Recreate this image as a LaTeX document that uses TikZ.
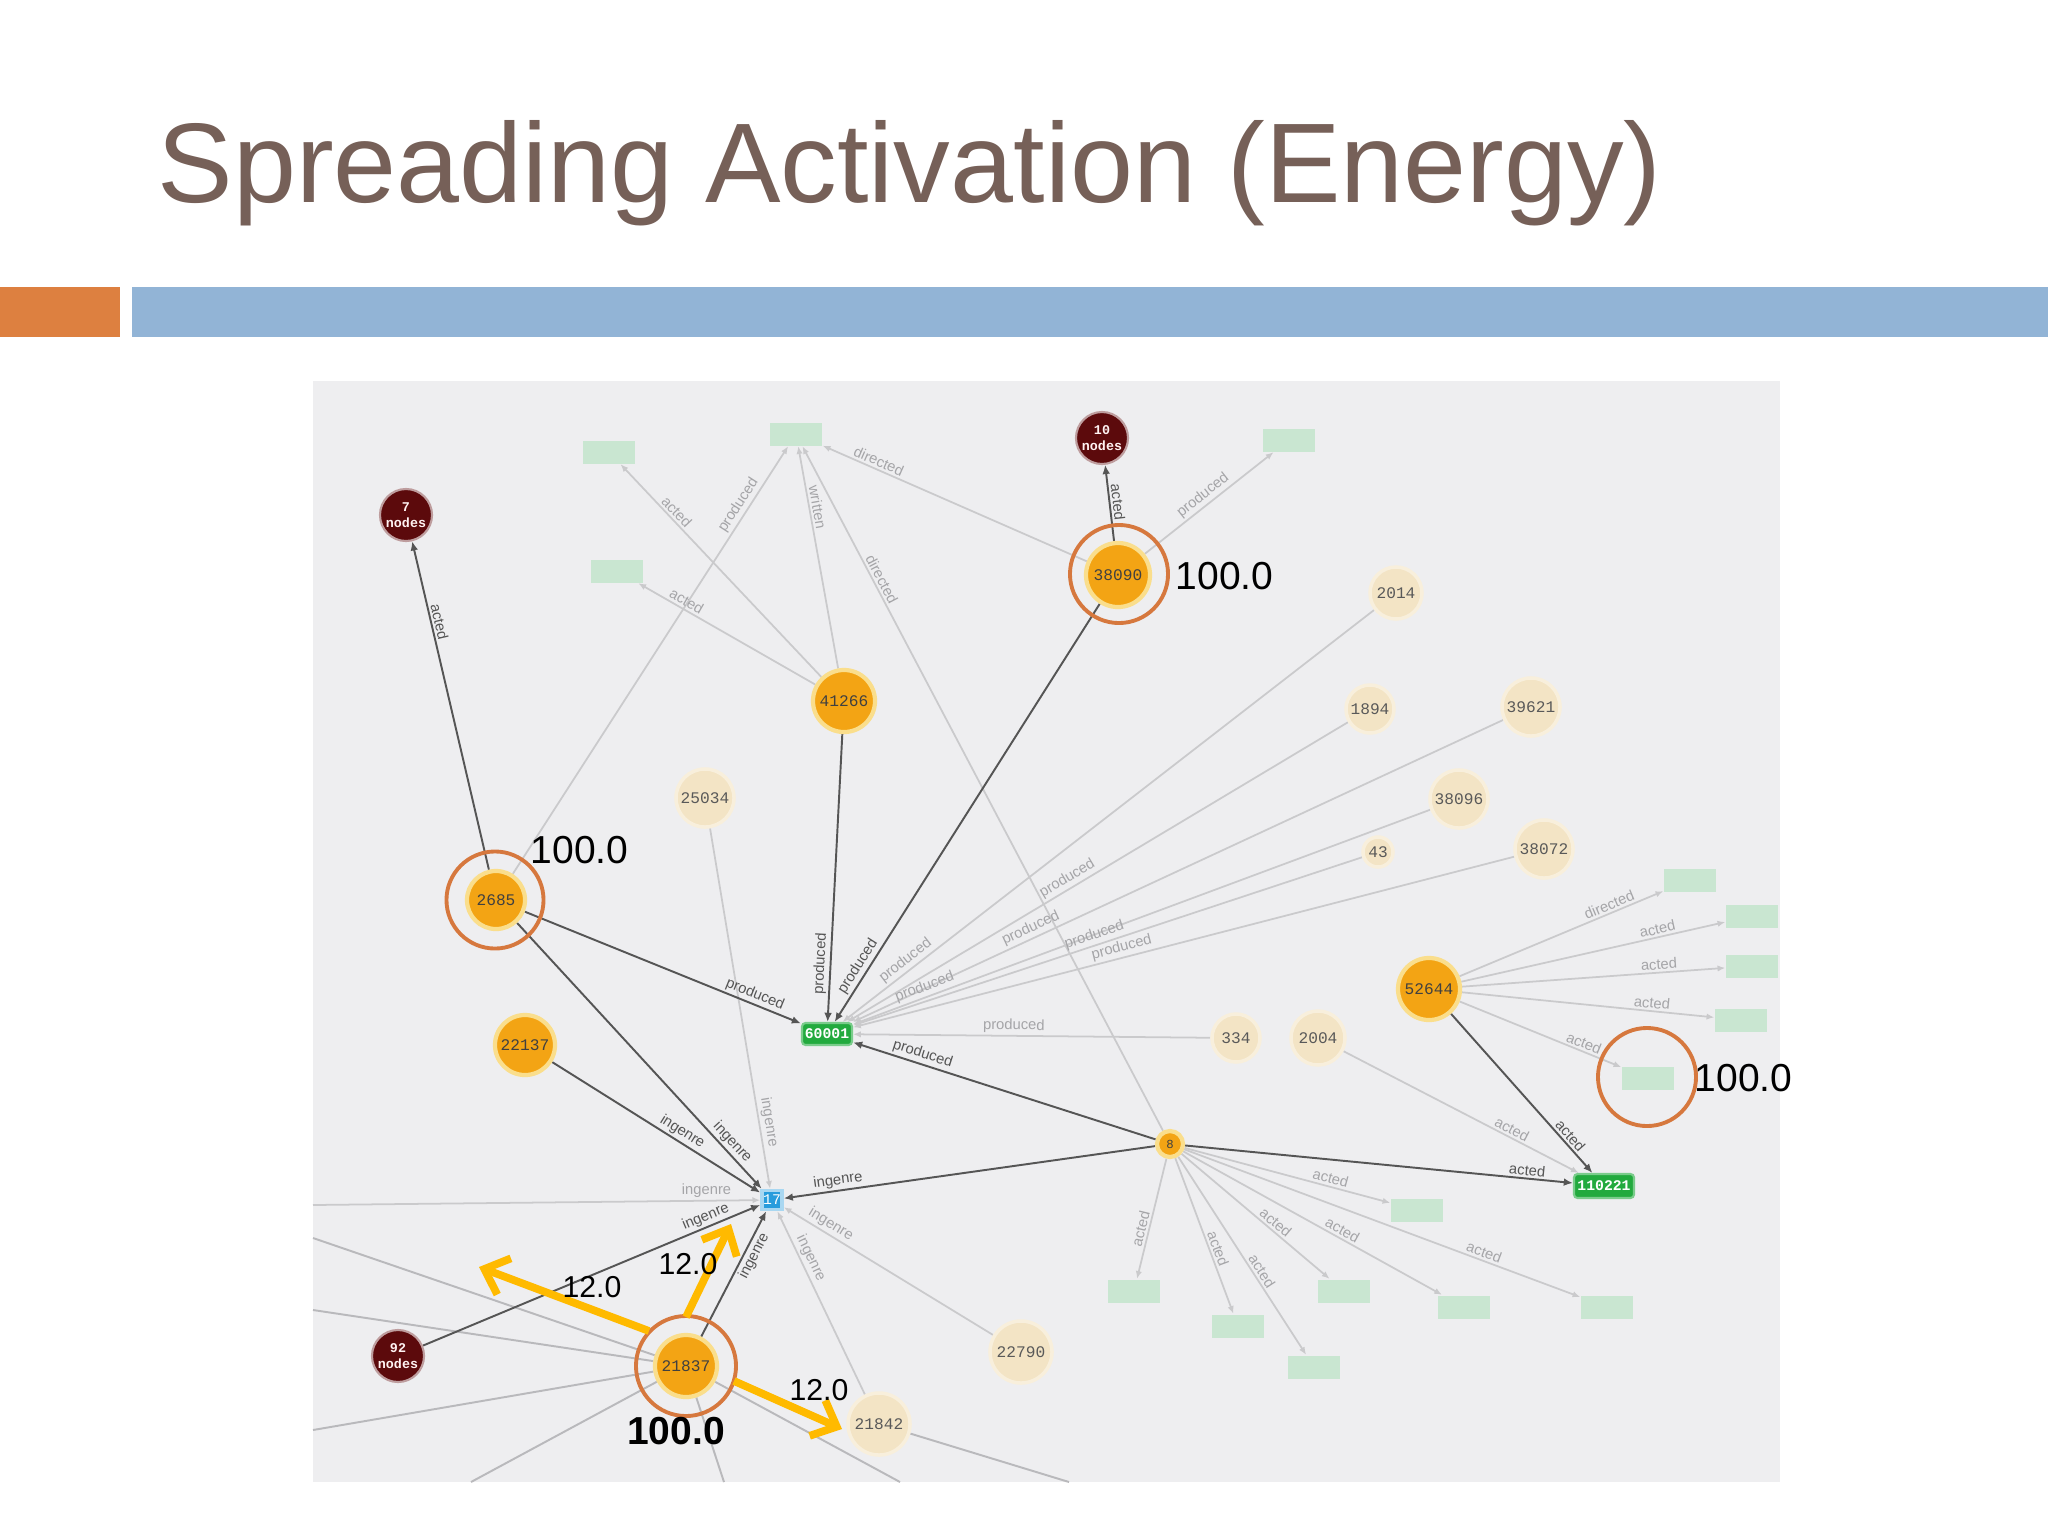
\documentclass[tikz,border=0pt]{standalone}
\usepackage{fontspec}
\setmainfont{Liberation Sans}
\newfontfamily\monof{Liberation Mono}
\usetikzlibrary{arrows.meta}
\pgfdeclarelayer{panel}
\pgfdeclarelayer{edges}
\pgfsetlayers{panel,edges,main}
\definecolor{titlec}{RGB}{118,96,88}
\definecolor{barorange}{RGB}{221,128,64}
\definecolor{barblue}{RGB}{146,180,214}
\definecolor{panelbg}{RGB}{238,238,240}
\definecolor{actfill}{RGB}{243,164,20}
\definecolor{halo}{RGB}{250,222,140}
\definecolor{palefill}{RGB}{243,228,197}
\definecolor{dredfill}{RGB}{92,10,12}
\definecolor{gfill}{RGB}{34,170,62}
\definecolor{faintg}{RGB}{201,230,209}
\definecolor{bluef}{RGB}{40,156,220}
\definecolor{ringc}{RGB}{214,120,62}
\definecolor{yarrow}{RGB}{255,186,0}
\definecolor{darkedge}{RGB}{85,85,85}
\definecolor{lightedge}{RGB}{202,202,204}
\definecolor{midedge}{RGB}{185,185,188}
\definecolor{lightlbl}{RGB}{165,165,168}
\tikzset{
  act/.style={circle, fill=actfill, draw=halo, line width=1.2pt, inner sep=0pt, minimum size=#1, font=\monof\fontsize{4.6}{5}\selectfont, text=black!75},
  pale/.style={circle, fill=palefill, draw=palefill!60!white, line width=1pt, inner sep=0pt, minimum size=#1, font=\monof\fontsize{4.6}{5}\selectfont, text=black!65},
  dred/.style={circle, fill=dredfill, draw=dredfill!40!white, line width=0.6pt, inner sep=0pt, minimum size=0.52cm, align=center, font=\monof\bfseries\fontsize{3.8}{4.4}\selectfont, text=white!80!pink},
  gbox/.style={rectangle, rounded corners=1pt, fill=gfill, draw=gfill!60!white, line width=0.6pt, inner sep=0pt, minimum width=#1, minimum height=0.22cm, font=\monof\bfseries\fontsize{4.2}{5}\selectfont, text=white},
  fbox/.style={rectangle, fill=faintg, inner sep=0pt, minimum width=0.52cm, minimum height=0.23cm},
  bsq/.style={rectangle, fill=bluef, draw=bluef!40!white, line width=1pt, minimum width=0.2cm, minimum height=0.19cm, inner sep=0pt, font=\monof\fontsize{4.2}{5}\selectfont, text=white},
  dk/.style={draw=darkedge, line width=0.55pt, -{Latex[length=2.6pt,width=2.2pt]}},
  lt/.style={draw=lightedge, line width=0.5pt, -{Latex[length=2.2pt,width=1.8pt]}},
  ltn/.style={draw=midedge, line width=0.55pt},
  lbd/.style={font=\fontsize{4.2}{5}\selectfont, text=darkedge, sloped, above, inner sep=0.6pt},
  lbl/.style={font=\fontsize{4.2}{5}\selectfont, text=lightlbl, sloped, above, inner sep=0.6pt},
  ring/.style={circle, draw=ringc, line width=1.1pt, inner sep=0pt, minimum size=#1},
  yarr/.style={draw=yarrow, line width=2.2pt, -{Straight Barb[length=6pt,width=11pt]}},
  val/.style={font=\fontsize{11.1}{13}\selectfont, text=black, inner sep=0pt},
  sval/.style={font=\fontsize{8.6}{10}\selectfont, text=black, inner sep=0pt},
}
\begin{document}
\begin{tikzpicture}[x=0.01cm,y=-0.01cm]
\useasboundingbox (0,0) rectangle (2048,1536);
\begin{pgfonlayer}{panel}
\fill[white] (0,0) rectangle (2048,1536);
\fill[panelbg] (313,381) rectangle (1780,1482);
\end{pgfonlayer}
% title and bars
\node[anchor=base west, font=\fontsize{32.2}{39}\selectfont, text=titlec, inner sep=0pt] (title) at (157,202) {Spreading Activation (Energy)};
\fill[barorange] (0,287) rectangle (120,337);
\fill[barblue] (132,287) rectangle (2048,337);
% nodes
\node[dred] (n7) at (406,515) {7\\nodes};
\node[dred] (n10) at (1102,438) {10\\nodes};
\node[dred] (n92) at (398,1356) {92\\nodes};
\node[act=0.64cm] (n38090) at (1118,575) {38090};
\node[act=0.62cm] (n41266) at (844,701) {41266};
\node[pale=0.58cm] (n25034) at (705,798) {25034};
\node[act=0.58cm] (n2685) at (496,900) {2685};
\node[act=0.60cm] (n22137) at (525,1045) {22137};
\node[gbox=0.5cm] (n60001) at (827,1034) {60001};
\node[bsq] (n17) at (772,1200) {17};
\node[act=0.62cm] (n21837) at (686,1366) {21837};
\node[pale=0.62cm] (n21842) at (879,1424) {21842};
\node[pale=0.62cm] (n22790) at (1021,1352) {22790};
\node[act=0.26cm, font=\monof\fontsize{3.5}{4}\selectfont] (n8) at (1170,1144) {8};
\node[gbox=0.6cm, minimum height=0.24cm] (n110221) at (1604,1186) {110221};
\node[act=0.62cm] (n52644) at (1429,989) {52644};
\node[pale=0.48cm] (n334) at (1236,1038) {334};
\node[pale=0.54cm] (n2004) at (1318,1038) {2004};
\node[pale=0.30cm] (n43) at (1378,852) {43};
\node[pale=0.52cm] (n2014) at (1396,593) {2014};
\node[pale=0.48cm] (n1894) at (1370,709) {1894};
\node[pale=0.58cm] (n39621) at (1531,707) {39621};
\node[pale=0.58cm] (n38096) at (1459,799) {38096};
\node[pale=0.58cm] (n38072) at (1544,849) {38072};
% faint boxes
\node[fbox] (b1) at (609,452) {};
\node[fbox] (b2) at (796,434) {};
\node[fbox] (b3) at (617,571) {};
\node[fbox] (b4) at (1289,440) {};
\node[fbox] (b5) at (1690,880) {};
\node[fbox] (b6) at (1752,916) {};
\node[fbox] (b7) at (1752,966) {};
\node[fbox] (b8) at (1741,1020) {};
\node[fbox] (b9) at (1648,1078) {};
\node[fbox] (b10) at (1417,1210) {};
\node[fbox] (b11) at (1134,1291) {};
\node[fbox] (b12) at (1238,1326) {};
\node[fbox] (b13) at (1344,1291) {};
\node[fbox] (b14) at (1464,1307) {};
\node[fbox] (b15) at (1607,1307) {};
\node[fbox] (b16) at (1314,1367) {};
% panel edge points
\coordinate (pl0) at (313,1205);
\coordinate (pl1) at (313,1238);
\coordinate (pl2) at (313,1310);
\coordinate (pl3) at (313,1430);
\coordinate (pb1) at (471,1482);
\coordinate (pb2) at (724,1482);
\coordinate (pb3) at (900,1482);
\coordinate (pb4) at (1069,1482);
\begin{pgfonlayer}{edges}
% light edges
\draw[lt] (n2685) -- node[lbl, pos=0.85] {produced} (b2);
\draw[lt] (n41266) -- node[lbl, pos=0.75] {acted} (b1);
\draw[lt] (n41266) -- node[lbl, pos=0.75] {acted} (b3);
\draw[lt] (n41266) -- node[lbl, pos=0.72] {written} (b2);
\draw[lt] (n8) -- node[lbl, pos=0.8] {directed} (b2);
\draw[lt] (n38090) -- node[lbl, pos=0.8] {directed} (b2);
\draw[lt] (n38090) -- node[lbl, pos=0.5] {produced} (b4);
\draw[lt] (n2014) -- node[lbl, pos=0.87] {produced} (n60001);
\draw[lt] (n1894) -- node[lbl, pos=0.55] {produced} (n60001);
\draw[lt] (n39621) -- node[lbl, pos=0.72] {produced} (n60001);
\draw[lt] (n38096) -- node[lbl, pos=0.87] {produced} (n60001);
\draw[lt] (n43) -- node[lbl, pos=0.52] {produced} (n60001);
\draw[lt] (n38072) -- node[lbl, pos=0.59] {produced} (n60001);
\draw[lt] (n334) -- node[lbl, pos=0.55] {produced} (n60001);
\draw[lt] (n25034) -- node[lbl, pos=0.82] {ingenre} (n17);
\draw[lt] (n2004) -- node[lbl, pos=0.7] {acted} (n110221);
\draw[lt] (n52644) -- node[lbl, pos=0.75] {directed} (b5);
\draw[lt] (n52644) -- node[lbl, pos=0.75] {acted} (b6);
\draw[lt] (n52644) -- node[lbl, pos=0.75] {acted} (b7);
\draw[lt] (n52644) -- node[lbl, pos=0.75] {acted} (b8);
\draw[lt] (n52644) -- node[lbl, pos=0.75] {acted} (b9);
\draw[lt] (n8) -- node[lbl, pos=0.7] {acted} (b10);
\draw[lt] (n8) -- node[lbl, pos=0.6] {acted} (b11);
\draw[lt] (n8) -- node[lbl, pos=0.6] {acted} (b12);
\draw[lt] (n8) -- node[lbl, pos=0.6] {acted} (b13);
\draw[lt] (n8) -- node[lbl, pos=0.6] {acted} (b14);
\draw[lt] (n8) -- node[lbl, pos=0.75] {acted} (b15);
\draw[lt] (n8) -- node[lbl, pos=0.6] {acted} (b16);
\draw[lt] (pl0) -- node[lbl, pos=0.88] {ingenre} (n17);
\draw[lt] (n22790) -- node[lbl, pos=0.8] {ingenre} (n17);
\draw[lt] (n21842) -- node[lbl, pos=0.72] {ingenre} (n17);
\draw[ltn] (pl1) -- (n21837);
\draw[ltn] (pl2) -- (n21837);
\draw[ltn] (pl3) -- (n21837);
\draw[ltn] (pb1) -- (n21837);
\draw[ltn] (pb2) -- (n21837);
\draw[ltn] (n21837) -- (pb3);
\draw[ltn] (n21842) -- (pb4);
% dark edges
\draw[dk] (n2685) -- node[lbd, pos=0.75] {acted} (n7);
\draw[dk] (n38090) -- node[lbd, pos=0.5] {acted} (n10);
\draw[dk] (n2685) -- node[lbd, pos=0.82] {produced} (n60001);
\draw[dk] (n41266) -- node[lbd, pos=0.8] {produced} (n60001);
\draw[dk] (n38090) -- node[lbd, pos=0.88] {produced} (n60001);
\draw[dk] (n8) -- node[lbd, pos=0.78] {produced} (n60001);
\draw[dk] (n2685) -- node[lbd, pos=0.85] {ingenre} (n17);
\draw[dk] (n22137) -- node[lbd, pos=0.6] {ingenre} (n17);
\draw[dk] (n8) -- node[lbd, pos=0.85] {ingenre} (n17);
\draw[dk] (n21837) -- node[lbd, pos=0.68, below] {ingenre} (n17);
\draw[dk] (n92) -- node[lbd, pos=0.85] {ingenre} (n17);
\draw[dk] (n8) -- node[lbd, pos=0.88] {acted} (n110221);
\draw[dk] (n52644) -- node[lbd, pos=0.8] {acted} (n110221);
\end{pgfonlayer}
% annotation rings and values
\node[ring=0.98cm] (r38090) at (1119,574) {};
\node[ring=0.97cm] (r2685) at (495,900) {};
\node[ring=1.0cm] (r21837) at (686,1366) {};
\node[ring=0.98cm] (r9) at (1647,1077) {};
\node[val, anchor=west] (v38090) at (1175,576) {100.0};
\node[val, anchor=west] (v2685) at (530,850) {100.0};
\node[val, anchor=west] (v9) at (1694,1078) {100.0};
\node[val, font=\bfseries\fontsize{11.1}{13}\selectfont] (v21837) at (676,1431) {100.0};
% yellow spreading arrows
\coordinate (yA0) at (649,1331);
\coordinate (yA1) at (479,1267);
\coordinate (yB0) at (686,1317);
\coordinate (yB1) at (731,1224);
\coordinate (yC0) at (734,1381);
\coordinate (yC1) at (842,1429);
\draw[yarr] (yA0) -- (yA1);
\draw[yarr] (yB0) -- (yB1);
\draw[yarr] (yC0) -- (yC1);
\node[sval] (w1) at (592,1287) {12.0};
\node[sval] (w2) at (688,1264) {12.0};
\node[sval] (w3) at (819,1390) {12.0};
\end{tikzpicture}
\end{document}
